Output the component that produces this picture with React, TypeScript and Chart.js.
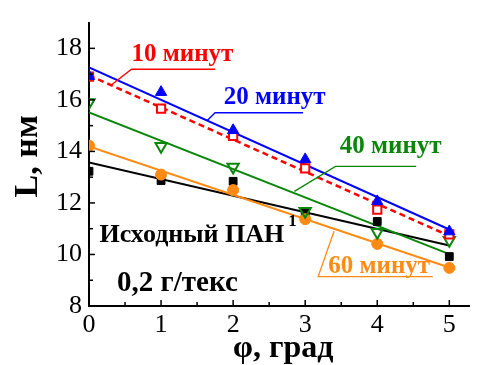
import React, { useEffect, useRef } from 'react';
import { Chart, registerables } from 'chart.js';

Chart.register(...registerables);

// ---- data ----
const phi = [0, 1, 2, 3, 4, 5];
const basePAN = [13.23, 12.87, 12.84, 11.6, 11.28, 9.92]; // Исходный ПАН
const min10 = [16.9, 15.66, 14.6, 13.34, 11.74, 10.78];
const min20 = [16.92, 16.3, 14.82, 13.69, 12.06, 10.89];
const min40 = [15.9, 14.2, 13.4, 11.68, 10.86, 10.55];
const min60 = [14.22, 13.1, 12.5, 11.37, 10.41, 9.48];

const xTicks = [0, 1, 2, 3, 4, 5];
const xMinorTicks = [0.5, 1.5, 2.5, 3.5, 4.5];
const yTicks = [8, 10, 12, 14, 16, 18];
const yMinorTicks = [9, 11, 13, 15, 17];

const RED = '#ff0000';
const BLUE = '#0000ff';
const GREEN = '#0a870a';
const ORANGE = '#ff8a14';
const BLACK = '#000000';
const FONT = "'Liberation Serif', 'Times New Roman', serif";

const pts = (ys: number[]) => phi.map((x, i) => ({ x, y: ys[i] }));

// least-squares straight line through a series, drawn from first to last phi
const fit = (ys: number[]) => {
  const n = phi.length;
  const mx = phi.reduce((a, b) => a + b, 0) / n;
  const my = ys.reduce((a, b) => a + b, 0) / n;
  let sxy = 0;
  let sxx = 0;
  phi.forEach((x, i) => {
    sxy += (x - mx) * (ys[i] - my);
    sxx += (x - mx) * (x - mx);
  });
  const b = sxy / sxx;
  const a = my - b * mx;
  const x0 = phi[0];
  const x1 = phi[n - 1];
  return [
    { x: x0, y: a + b * x0 },
    { x: x1, y: a + b * x1 },
  ];
};

type Note = {
  text: string;
  sup?: string;
  color: string;
  size: number;
  x: number;
  y: number;
  leader?: [number, number][];
};

const notes: Note[] = [
  { text: '10 минут', color: RED, size: 25, x: 0.59, y: 17.76, leader: [[0.3, 16.56], [0.59, 17.19], [1.75, 17.19]] },
  { text: '20 минут', color: BLUE, size: 25, x: 1.87, y: 16.1, leader: [[1.64, 15.2], [1.75, 15.5], [2.97, 15.5]] },
  { text: '40 минут', color: GREEN, size: 25, x: 3.48, y: 14.18, leader: [[2.85, 12.45], [3.42, 13.42], [4.54, 13.42]] },
  { text: '60 минут', color: ORANGE, size: 25, x: 3.32, y: 9.55, leader: [[3.4, 10.9], [3.18, 9.14], [4.77, 9.14]] },
  { text: 'Исходный ПАН', sup: '1', color: BLACK, size: 26, x: 0.145, y: 10.75 },
  { text: '0,2 г/текс', color: BLACK, size: 29, x: 0.39, y: 8.87 },
];

const decorPlugin = {
  id: 'decor',
  afterDraw(chart: any) {
    const { ctx, chartArea } = chart;
    const xs = chart.scales.x;
    const ys = chart.scales.y;
    ctx.save();
    // inward tick marks
    ctx.strokeStyle = BLACK;
    ctx.lineWidth = 1.5;
    const tick = (x1: number, y1: number, x2: number, y2: number) => {
      ctx.beginPath();
      ctx.moveTo(x1, y1);
      ctx.lineTo(x2, y2);
      ctx.stroke();
    };
    xTicks.forEach((v) => {
      const p = xs.getPixelForValue(v);
      tick(p, chartArea.bottom, p, chartArea.bottom - 6);
    });
    xMinorTicks.forEach((v) => {
      const p = xs.getPixelForValue(v);
      tick(p, chartArea.bottom, p, chartArea.bottom - 4);
    });
    yTicks.forEach((v) => {
      const p = ys.getPixelForValue(v);
      tick(chartArea.left, p, chartArea.left + 6, p);
    });
    yMinorTicks.forEach((v) => {
      const p = ys.getPixelForValue(v);
      tick(chartArea.left, p, chartArea.left + 4, p);
    });

    // annotations
    notes.forEach((n) => {
      if (n.leader) {
        ctx.strokeStyle = n.color;
        ctx.lineWidth = 1.3;
        ctx.beginPath();
        n.leader.forEach(([lx, ly], i) => {
          const px = xs.getPixelForValue(lx);
          const py = ys.getPixelForValue(ly);
          if (i === 0) ctx.moveTo(px, py);
          else ctx.lineTo(px, py);
        });
        ctx.stroke();
      }
      ctx.fillStyle = n.color;
      ctx.font = `bold ${n.size}px ${FONT}`;
      ctx.textAlign = 'left';
      ctx.textBaseline = 'middle';
      const px = xs.getPixelForValue(n.x);
      const py = ys.getPixelForValue(n.y);
      ctx.fillText(n.text, px, py);
      if (n.sup) {
        const w = ctx.measureText(n.text).width;
        ctx.font = `bold 17px ${FONT}`;
        ctx.fillText(n.sup, px + w + 4, py - 14);
      }
    });

    // axis titles
    ctx.fillStyle = BLACK;
    ctx.textAlign = 'center';
    ctx.textBaseline = 'alphabetic';
    ctx.font = `bold 32px ${FONT}`;
    ctx.fillText('φ, град', (chartArea.left + chartArea.right) / 2 + 4, 357);
    ctx.save();
    ctx.translate(37, (chartArea.top + chartArea.bottom) / 2 - 8);
    ctx.rotate(-Math.PI / 2);
    ctx.font = `bold 34px ${FONT}`;
    ctx.fillText('L, нм', 0, 0);
    ctx.restore();
    ctx.restore();
  },
};

export default function App() {
  const ref = useRef<HTMLCanvasElement | null>(null);
  useEffect(() => {
    if (!ref.current) return;
    const markerBase = { showLine: false, pointHoverRadius: 0 };
    const lineBase = { showLine: true, pointRadius: 0, pointHoverRadius: 0, fill: false, tension: 0 };
    const chart = new Chart(ref.current, {
      type: 'scatter',
      data: {
        datasets: [
          { ...markerBase, label: '20 минут', data: pts(min20), pointStyle: 'triangle', pointRadius: 6.5, backgroundColor: BLUE, borderColor: BLUE, borderWidth: 1, order: 1 },
          { ...markerBase, label: '10 минут', data: pts(min10), pointStyle: 'rect', pointRadius: 5.8, backgroundColor: '#ffffff', borderColor: RED, borderWidth: 2, order: 2 },
          { ...markerBase, label: '40 минут', data: pts(min40), pointStyle: 'triangle', rotation: 180, pointRadius: 6.5, backgroundColor: 'rgba(0,0,0,0)', borderColor: GREEN, borderWidth: 2, order: 3 },
          { ...markerBase, label: '60 минут', data: pts(min60), pointStyle: 'circle', pointRadius: 5.5, backgroundColor: ORANGE, borderColor: ORANGE, borderWidth: 1, order: 4 },
          { ...markerBase, label: 'Исходный ПАН', data: pts(basePAN), pointStyle: 'rect', pointRadius: 5.5, backgroundColor: BLACK, borderColor: BLACK, borderWidth: 1, order: 5 },
          { ...lineBase, label: 'fit 20', data: fit(min20), borderColor: BLUE, borderWidth: 2, order: 6 },
          { ...lineBase, label: 'fit 10', data: fit(min10), borderColor: RED, borderWidth: 2.5, borderDash: [6, 4], order: 7 },
          { ...lineBase, label: 'fit 40', data: fit(min40), borderColor: GREEN, borderWidth: 2, order: 8 },
          { ...lineBase, label: 'fit 60', data: fit(min60), borderColor: ORANGE, borderWidth: 2, order: 9 },
          { ...lineBase, label: 'fit base', data: fit(basePAN), borderColor: BLACK, borderWidth: 2, order: 10 },
        ] as any,
      },
      options: {
        responsive: false,
        animation: false,
        events: [],
        layout: { padding: { top: 14, left: 0, right: 0, bottom: 0 } },
        plugins: { legend: { display: false }, tooltip: { enabled: false }, title: { display: false } },
        scales: {
          x: {
            type: 'linear',
            min: 0,
            max: 5.28,
            afterBuildTicks: (s: any) => {
              s.ticks = xTicks.map((v) => ({ value: v }));
            },
            afterFit: (s: any) => {
              s.height = 59;
            },
            grid: { display: true, drawOnChartArea: false, drawTicks: false },
            border: { display: true, color: BLACK, width: 2 },
            ticks: { color: BLACK, font: { family: FONT, size: 26 }, padding: 4, maxRotation: 0, autoSkip: false },
          },
          y: {
            type: 'linear',
            min: 8,
            max: 19,
            afterBuildTicks: (s: any) => {
              s.ticks = yTicks.map((v) => ({ value: v }));
            },
            afterFit: (s: any) => {
              s.width = 89;
            },
            grid: { display: true, drawOnChartArea: false, drawTicks: false },
            border: { display: true, color: BLACK, width: 2 },
            ticks: { color: BLACK, font: { family: FONT, size: 26 }, padding: 7, autoSkip: false },
          },
        },
      },
      plugins: [decorPlugin],
    });
    return () => chart.destroy();
  }, []);
  return (
    <div style={{ position: 'absolute', left: 0, top: 0, width: 478, height: 365, background: '#fff' }}>
      <canvas ref={ref} width={478} height={365} style={{ display: 'block' }} />
    </div>
  );
}
